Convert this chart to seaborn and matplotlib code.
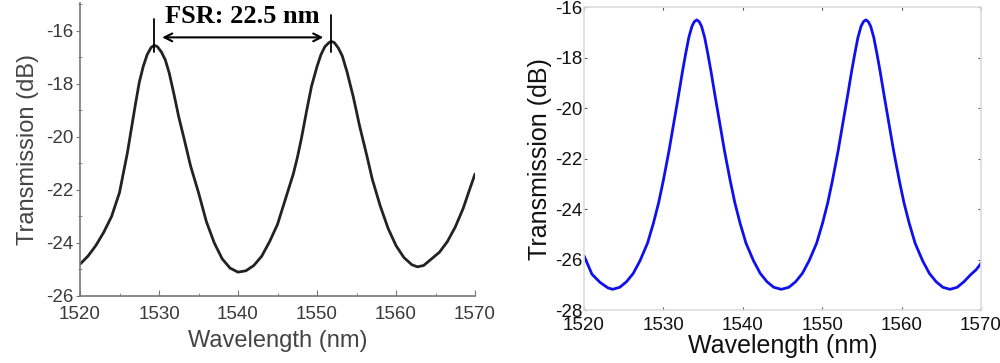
import numpy as np
import pandas as pd
import matplotlib
matplotlib.use("Agg")
import matplotlib.pyplot as plt
import seaborn as sns
from matplotlib.ticker import MultipleLocator

wl_meas = [1520.0, 1521.0, 1522.0, 1523.0, 1524.0, 1525.0, 1526.0, 1526.5, 1527.0, 1527.5,
           1528.0, 1528.5, 1529.0, 1529.4, 1529.8, 1530.3, 1530.8, 1531.3, 1531.9, 1532.5,
           1533.2, 1534.0, 1535.0, 1536.0, 1537.0, 1538.0, 1539.0, 1540.0, 1541.0, 1542.0,
           1543.0, 1544.0, 1545.0, 1546.0, 1547.0, 1547.5, 1548.0, 1548.7, 1549.3, 1550.0,
           1550.5, 1551.0, 1551.5, 1551.8, 1552.2, 1552.7, 1553.2, 1553.8, 1554.6, 1555.4,
           1556.3, 1557.0, 1558.0, 1559.0, 1560.0, 1561.0, 1562.0, 1562.7, 1563.5, 1564.5,
           1565.5, 1566.5, 1567.5, 1568.5, 1569.3, 1570.0]
tr_meas = [-24.8, -24.5, -24.1, -23.6, -23.0, -22.1, -20.6, -19.7, -18.8, -17.95,
           -17.35, -16.9, -16.63, -16.55, -16.6, -16.8, -17.1, -17.6, -18.4, -19.25,
           -20.1, -21.1, -22.1, -23.2, -24.0, -24.6, -24.95, -25.1, -25.05, -24.85,
           -24.5, -23.95, -23.3, -22.35, -21.4, -20.8, -20.1, -19.0, -18.1, -17.35,
           -16.9, -16.6, -16.45, -16.4, -16.45, -16.65, -16.95, -17.55, -18.5, -19.6,
           -20.7, -21.6, -22.6, -23.45, -24.1, -24.55, -24.82, -24.9, -24.85, -24.6,
           -24.35, -23.95, -23.4, -22.7, -22.0, -21.4]

# simulated transmission (right)
wl_sim = [1520.0, 1521.0, 1522.0, 1523.0, 1523.6, 1524.5, 1525.35, 1526.2, 1527.05, 1528.0,
          1528.75, 1529.4, 1530.0, 1530.7, 1531.3, 1531.9, 1532.4, 1532.8, 1533.2, 1533.6,
          1533.9, 1534.2, 1534.5, 1534.8, 1535.2, 1535.6, 1536.0, 1536.5, 1537.1, 1537.7,
          1538.4, 1539.0, 1539.65, 1540.4, 1541.35, 1542.2, 1543.05, 1543.9, 1544.85, 1545.8,
          1546.65, 1547.5, 1548.35, 1549.3, 1550.05, 1550.7, 1551.3, 1552.0, 1552.6, 1553.2,
          1553.7, 1554.1, 1554.5, 1554.9, 1555.2, 1555.5, 1555.8, 1556.1, 1556.5, 1556.9,
          1557.3, 1557.8, 1558.4, 1559.0, 1559.7, 1560.3, 1560.95, 1561.7, 1562.65, 1563.5,
          1564.35, 1565.2, 1566.1, 1567.0, 1567.85, 1568.7, 1569.4, 1570.0]
tr_sim = [-25.85, -26.58, -26.9, -27.12, -27.18, -27.1, -26.88, -26.55, -26.05, -25.35,
          -24.55, -23.75, -22.85, -21.7, -20.6, -19.5, -18.55, -17.85, -17.2, -16.75,
          -16.57, -16.5, -16.57, -16.75, -17.2, -17.85, -18.55, -19.5, -20.6, -21.7,
          -22.85, -23.75, -24.55, -25.35, -26.05, -26.55, -26.88, -27.1, -27.18, -27.1,
          -26.88, -26.55, -26.05, -25.35, -24.55, -23.75, -22.85, -21.7, -20.6, -19.5,
          -18.55, -17.85, -17.2, -16.75, -16.57, -16.5, -16.57, -16.75, -17.2, -17.85,
          -18.55, -19.5, -20.6, -21.7, -22.85, -23.75, -24.55, -25.35, -26.05, -26.55,
          -26.88, -27.1, -27.18, -27.1, -26.88, -26.6, -26.4, -26.15]

peak1, peak2 = 1529.4, 1551.8
fsr_label = "FSR: 22.5 nm"

sns.set_style("ticks")
plt.rcParams['font.family'] = ['Liberation Sans', 'DejaVu Sans']
plt.rcParams['axes.unicode_minus'] = False

fig = plt.figure(figsize=(10, 3.63), dpi=100)
ax1 = fig.add_axes([0.08, 0.1846, 0.395, 0.8074])
ax2 = fig.add_axes([0.584, 0.146, 0.397, 0.834])

# ---- left panel
df1 = pd.DataFrame({"wl": wl_meas, "tr": tr_meas})
sns.lineplot(data=df1, x="wl", y="tr", ax=ax1, color="#222222", lw=2.0)
ax1.set_xlim(1520, 1570)
ax1.set_ylim(-26, -14.95)
ax1.xaxis.set_major_locator(MultipleLocator(10))
ax1.xaxis.set_minor_locator(MultipleLocator(5))
ax1.yaxis.set_major_locator(MultipleLocator(2))
ax1.yaxis.set_minor_locator(MultipleLocator(1))
for s in ["top", "right"]:
    ax1.spines[s].set_visible(False)
for s in ["left", "bottom"]:
    ax1.spines[s].set_color("#777777")
    ax1.spines[s].set_linewidth(1.2)
ax1.tick_params(axis="x", which="major", direction="in", length=4, color="#777777",
                labelsize=13.5, labelcolor="#3a3a3a", pad=7)
ax1.tick_params(axis="x", which="minor", direction="in", length=2.5, color="#777777")
ax1.tick_params(axis="y", which="major", direction="out", length=3, color="#777777",
                labelsize=13.5, labelcolor="#3a3a3a", pad=2)
ax1.tick_params(axis="y", which="minor", direction="inout", length=3, color="#777777")
ax1.set_xlabel("Wavelength (nm)", fontsize=17, color="#444444", labelpad=5)
ax1.set_ylabel("Transmission (dB)", fontsize=17, color="#444444", labelpad=5)

# FSR annotation
ax1.plot([peak1, peak1], [-16.79, -15.55], color="black", lw=1.3)
ax1.plot([peak2, peak2], [-16.8, -15.4], color="black", lw=1.3)
ax1.annotate("", xy=(peak1 + 1.0, -16.25), xytext=(peak2 - 1.0, -16.25),
             arrowprops=dict(arrowstyle="<->", color="black", lw=1.5,
                             shrinkA=0, shrinkB=0, mutation_scale=14))
ax1.text((peak1 + peak2) / 2, -15.45, fsr_label, ha="center", va="center",
         fontsize=19, fontweight="bold", family=["Liberation Serif", "DejaVu Serif"],
         color="black")

# ---- right panel
df2 = pd.DataFrame({"wl": wl_sim, "tr": tr_sim})
sns.lineplot(data=df2, x="wl", y="tr", ax=ax2, color="#1010ee", lw=2.0)
ax2.set_xlim(1520, 1570)
ax2.set_ylim(-28, -16)
ax2.xaxis.set_major_locator(MultipleLocator(10))
ax2.yaxis.set_major_locator(MultipleLocator(2))
for s in ax2.spines.values():
    s.set_color("#dddddd")
    s.set_linewidth(1.2)
ax2.tick_params(axis="both", which="major", direction="in", length=2, color="#555555",
                labelsize=13.5, labelcolor="#111111", top=True, right=True)
ax2.tick_params(axis="x", pad=5)
ax2.tick_params(axis="y", pad=1)
ax2.set_xlabel("Wavelength (nm)", fontsize=18, color="#111111", labelpad=0)
ax2.set_ylabel("Transmission (dB)", fontsize=18, color="#111111", labelpad=2)

fig.savefig("out.png", dpi=100)
